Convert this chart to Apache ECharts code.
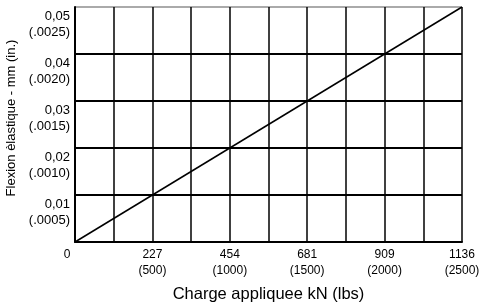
<!DOCTYPE html>
<html>
<head>
<meta charset="UTF-8">
<title></title>
<script src="https://cdn.jsdelivr.net/npm/echarts@6/dist/echarts.min.js"></script>
<style>
  html, body { margin: 0; padding: 0; background: #fff; }
  #chart { width: 480px; height: 303px; }
</style>
</head>
<body>
<div id="chart"></div>
<script>
// charge (kN) vs flexion (mm)
var chargeKN = [0, 1136];
var flexionMM = [0, 0.05];

// tick labels
var xTickKN = ['0', '227', '454', '681', '909', '1136'];
var xTickLbs = ['', '(500)', '(1000)', '(1500)', '(2000)', '(2500)'];
var yTickMM = ['', '0,01', '0,02', '0,03', '0,04', '0,05'];
var yTickIn = ['', '(.0005)', '(.0010)', '(.0015)', '(.0020)', '(.0025)'];

var font = 'Liberation Sans, Arial, sans-serif';
var chart = echarts.init(document.getElementById('chart'));

chart.setOption({
  animation: false,
  grid: { left: 75, right: 18, top: 7, bottom: 61, containLabel: false, outerBoundsMode: 'none' },
  xAxis: {
    type: 'value',
    min: 0,
    max: 1136,
    interval: 113.6,
    name: 'Charge appliquee kN (lbs)',
    nameLocation: 'middle',
    nameGap: 44,
    nameTextStyle: { fontFamily: font, fontSize: 16.5, color: '#000' },
    axisLine: { show: true, lineStyle: { color: '#000', width: 2 } },
    axisTick: { show: false },
    splitLine: { show: true, lineStyle: { color: '#000', width: 1.5 } },
    axisLabel: {
      fontFamily: font, fontSize: 12, color: '#000', lineHeight: 16, margin: 5,
      showMaxLabel: true,
      formatter: function (v) {
        var i = Math.round(v / 227.2);
        if (Math.abs(v - i * 227.2) > 1) return '';
        if (i === 0) return '{z|0}';
        return xTickKN[i] + '\n' + xTickLbs[i];
      },
      rich: { z: { fontFamily: font, fontSize: 12, color: '#000', padding: [0, 16, 0, 0] } }
    }
  },
  yAxis: {
    type: 'value',
    min: 0,
    max: 0.05,
    interval: 0.01,
    name: 'Flexion èlastique - mm (in.)',
    nameLocation: 'middle',
    nameGap: 56,
    nameTextStyle: { fontFamily: font, fontSize: 13, color: '#000', padding: [0, 0, 0, 13] },
    axisLine: { show: true, lineStyle: { color: '#000', width: 2 } },
    axisTick: { show: false },
    splitLine: {
      show: true,
      lineStyle: { color: ['#000', '#000', '#000', '#000', '#000', '#aaa'], width: 2 }
    },
    axisLabel: {
      fontFamily: font, fontSize: 13, color: '#000', lineHeight: 16,
      verticalAlign: 'top', margin: 5, padding: [1, 0, 0, 0],
      showMaxLabel: true,
      formatter: function (v) {
        var i = Math.round(v * 100);
        return yTickMM[i] ? yTickMM[i] + '\n' + yTickIn[i] : '';
      }
    }
  },
  series: [{
    type: 'line',
    data: chargeKN.map(function (x, i) { return [x, flexionMM[i]]; }),
    symbol: 'none',
    lineStyle: { color: '#000', width: 1.5 }
  }]
});
</script>
</body>
</html>
